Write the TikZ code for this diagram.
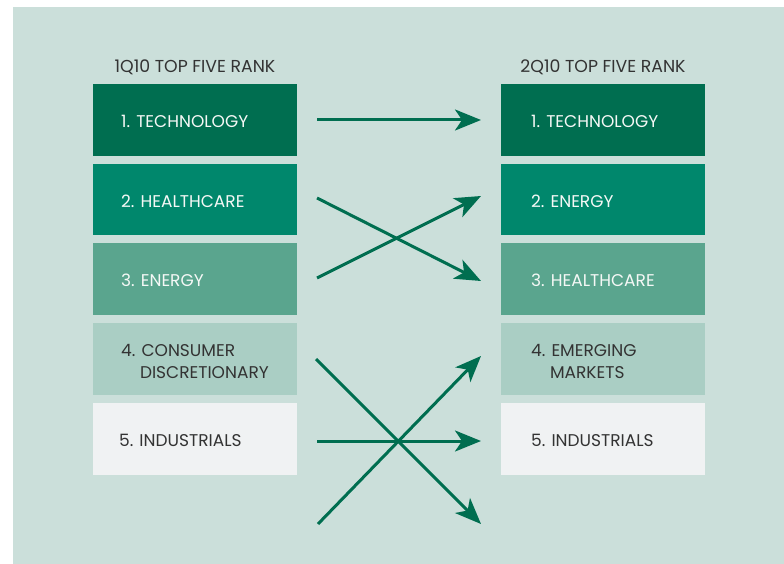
\documentclass[tikz,border=0pt]{standalone}
\usepackage{fontspec}
\setmainfont{Poppins}
\usetikzlibrary{arrows.meta}
\definecolor{bgc}{RGB}{203,223,218}
\definecolor{c1}{RGB}{0,110,80}
\definecolor{c2}{RGB}{0,135,108}
\definecolor{c3}{RGB}{90,165,142}
\definecolor{c4}{RGB}{170,206,196}
\definecolor{c5}{RGB}{240,242,243}
\definecolor{txt}{RGB}{51,51,51}
\definecolor{wtxt}{RGB}{245,248,246}
\begin{document}
\begin{tikzpicture}[x=1pt,y=-1pt,
  box/.style={minimum width=204pt, minimum height=71.7pt, inner sep=0pt, outer sep=0pt, anchor=north west, draw=none},
  lbl/.style={anchor=west, inner sep=0pt, align=left, font=\fontsize{17}{22}\selectfont},
  ttl/.style={anchor=base, inner sep=0pt, text=txt, font=\fontsize{17.3}{20}\selectfont},
  arr/.style={draw=c1, line width=3pt, -{Stealth[length=26pt, width=21pt, inset=7pt]}}
]
\useasboundingbox (0,0) rectangle (784,564);
\fill[bgc] (13,7) rectangle (784,564);

\node[ttl] (T1) at (195,73) {1Q10 TOP FIVE RANK};
\node[ttl] (T2) at (603,73) {2Q10 TOP FIVE RANK};

% left column
\node[box, fill=c1] (L1) at (93,84) {};
\node[box, fill=c2] (L2) at (93,163.7) {};
\node[box, fill=c3] (L3) at (93,243.4) {};
\node[box, fill=c4] (L4) at (93,323.1) {};
\node[box, fill=c5] (L5) at (93,402.8) {};
% right column
\node[box, fill=c1] (R1) at (501,84) {};
\node[box, fill=c2] (R2) at (501,163.7) {};
\node[box, fill=c3] (R3) at (501,243.4) {};
\node[box, fill=c4] (R4) at (501,323.1) {};
\node[box, fill=c5] (R5) at (501,402.8) {};

\node[lbl, text=wtxt] (L1t) at ([xshift=28pt,yshift=-1.5pt]L1.west) {1. TECHNOLOGY};
\node[lbl, text=wtxt] (L2t) at ([xshift=28pt,yshift=-1.5pt]L2.west) {2. HEALTHCARE};
\node[lbl, text=wtxt] (L3t) at ([xshift=28pt,yshift=-1.5pt]L3.west) {3. ENERGY};
\node[lbl, text=txt]  (L4t) at ([xshift=28pt,yshift=-3pt]L4.west) {4. CONSUMER\\\hphantom{4.\ }DISCRETIONARY};
\node[lbl, text=txt]  (L5t) at ([xshift=26pt,yshift=-1.5pt]L5.west) {5. INDUSTRIALS};

\node[lbl, text=wtxt] (R1t) at ([xshift=30pt,yshift=-1.5pt]R1.west) {1. TECHNOLOGY};
\node[lbl, text=wtxt] (R2t) at ([xshift=30pt,yshift=-1.5pt]R2.west) {2. ENERGY};
\node[lbl, text=wtxt] (R3t) at ([xshift=30pt,yshift=-1.5pt]R3.west) {3. HEALTHCARE};
\node[lbl, text=txt]  (R4t) at ([xshift=30pt,yshift=-3pt]R4.west) {4. EMERGING\\\hphantom{4.\ }MARKETS};
\node[lbl, text=txt]  (R5t) at ([xshift=30pt,yshift=-1.5pt]R5.west) {5. INDUSTRIALS};

% arrow end points
\coordinate (s1) at (317,120);
\coordinate (e1) at (481,120);
\coordinate (s2) at (317,198);
\coordinate (e3) at (481,281);
\coordinate (s3) at (317,278);
\coordinate (e2) at (481,196);
\coordinate (s4) at (316,359);
\coordinate (e6) at (481,524);
\coordinate (s6) at (318,524);
\coordinate (e4) at (481,356);
\coordinate (s5) at (317,441);
\coordinate (e5) at (481,441);

\draw[arr] (s1) -- (e1);
\draw[arr] (s2) -- (e3);
\draw[arr] (s3) -- (e2);
\draw[arr] (s4) -- (e6);
\draw[arr] (s6) -- (e4);
\draw[arr] (s5) -- (e5);
\end{tikzpicture}
\end{document}
